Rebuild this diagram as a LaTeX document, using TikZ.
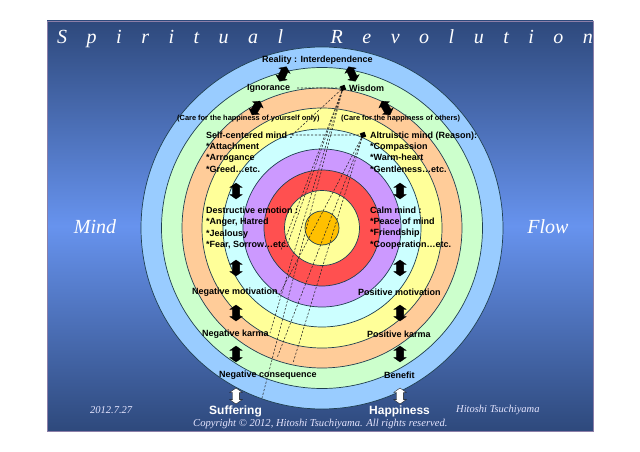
\documentclass[tikz,border=0pt]{standalone}
\usepackage{fontspec}
\setmainfont{Liberation Sans}
\newfontfamily\serifit[Ligatures=TeX]{Liberation Serif}
\definecolor{ringline}{HTML}{1F3F50}
\definecolor{bgdark}{HTML}{2E497C}
\definecolor{bgmid}{HTML}{6793EE}
\definecolor{frameline}{HTML}{8C7FA8}
\definecolor{ringa}{HTML}{99CCFF}
\definecolor{ringb}{HTML}{CCFFCC}
\definecolor{ringc}{HTML}{FFCC99}
\definecolor{ringd}{HTML}{FFFF99}
\definecolor{ringe}{HTML}{CCFFFF}
\definecolor{ringf}{HTML}{CC99FF}
\definecolor{ringg}{HTML}{FF5050}
\definecolor{ringh}{HTML}{FFFF99}
\definecolor{ringi}{HTML}{FFC000}
\tikzset{
  x=1pt,y=-1pt,
  ring/.style={draw=ringline,line width=0.7pt},
  lbl/.style={font=\fontsize{9}{11.2}\selectfont\bfseries,text=black,inner sep=0pt,anchor=west,align=left},
  smalllbl/.style={font=\fontsize{7.4}{9}\selectfont\bfseries,text=black,inner sep=0pt,anchor=west},
  bigwhite/.style={font=\fontsize{12}{14}\selectfont\bfseries,text=white,inner sep=0pt,anchor=west},
  script/.style={font=\serifit\itshape\fontsize{20}{24}\selectfont,text=white,inner sep=0pt},
  note/.style={font=\serifit\itshape\fontsize{10.5}{12}\selectfont,text=white!90!blue,inner sep=0pt,anchor=west},
  link/.style={draw=black!85,line width=0.55pt,dash pattern=on 2.2pt off 1.6pt},
  knot/.style={fill=black,minimum size=5pt,inner sep=0pt,rotate=20},
  dblar/.pic={
    \filldraw[fill=#1,draw=black,line width=0.3pt,line join=miter]
      (0,-8) -- (6.2,-3.6) -- (3.6,-3.6) -- (3.6,3.6) -- (6.2,3.6) -- (0,8)
      -- (-6.2,3.6) -- (-3.6,3.6) -- (-3.6,-3.6) -- (-6.2,-3.6) -- cycle;
  },
  dblar/.default=black,
}
\begin{document}
\begin{tikzpicture}
\useasboundingbox (0,0) rectangle (640,452);
\path[top color=bgdark,bottom color=bgdark,middle color=bgmid] (47,21) rectangle (593,431);
\draw[frameline,line width=0.8pt] (47,21) rectangle (593,431);
% rings
\coordinate (c) at (322,228);
\draw[ring,fill=ringa] (c) circle (181);
\draw[ring,fill=ringb] (c) circle (160.5);
\draw[ring,fill=ringc] (c) circle (140);
\draw[ring,fill=ringd] (c) circle (120);
\draw[ring,fill=ringe] (c) circle (99);
\draw[ring,fill=ringf] (c) circle (79);
\draw[ring,fill=ringg] (c) circle (58);
\draw[ring,fill=ringh] (c) circle (37.5);
\draw[ring,fill=ringi] (c) circle (17);
% connector anchors
\node[knot] (wis) at (343,88) {};
\node[knot] (alt) at (363,135) {};
\coordinate (ign) at (297,88);
\coordinate (self) at (292,135);
\coordinate (e0) at (281,250);
\coordinate (e1) at (288,243);
\coordinate (e2) at (270,333);
\coordinate (e3) at (262,398);
\coordinate (e4) at (278,297);
\coordinate (e5) at (277,358);
\coordinate (e6) at (293,363);
\draw[link] (ign) -- (wis);
\draw[link] (self) -- (wis);
\draw[link] (self) -- (alt);
\draw[link] (wis) -- (e0);
\draw[link] (wis) -- (e1);
\draw[link] (wis) -- (e2);
\draw[link] (wis) -- (e3);
\draw[link] (alt) -- (e4);
\draw[link] (alt) -- (e5);
\draw[link] (alt) -- (e6);
% arrows
\foreach \yy in {191,268,313,354}{
  \pic at (236,\yy) {dblar};
  \pic at (400,\yy) {dblar};
}
\pic at (236,396) {dblar=white};
\pic at (400,396) {dblar=white};
\pic[rotate=-25] at (283,74) {dblar};
\pic[rotate=25] at (352,74) {dblar};
\pic[rotate=-30] at (256,108) {dblar};
\pic[rotate=30] at (386,108) {dblar};
% title
\node[script,anchor=west] (title) at (57,39) {\spaceskip=19.5pt S p i r i t u a l\hspace{28pt} R e v o l u t i o n};
\node[script] (mind) at (95,227) {Mind};
\node[script] (flow) at (548,227) {Flow};
% labels
\node[lbl] (real) at (262,60) {Reality : Interdependence};
\node[lbl] (igl) at (247,88) {Ignorance};
\node[lbl] (wl) at (349,88) {Wisdom};
\node[smalllbl] (cl) at (177,119) {(Care for the happiness of yourself only)};
\node[smalllbl] (cr) at (341,119) {(Care for the happiness of others)};
\node[lbl] (b1) at (206,152) {Self-centered mind :\\*Attachment\\*Arrogance\\*Greed…etc.};
\node[lbl] (b2) at (370,152) {Altruistic mind (Reason):\\*Compassion\\*Warm-heart\\*Gentleness…etc.};
\node[lbl] (b3) at (206,228) {Destructive emotion :\\*Anger, Hatred\\*Jealousy\\*Fear, Sorrow…etc.};
\node[lbl] (b4) at (370,228) {Calm mind :\\*Peace of mind\\*Friendship\\*Cooperation…etc.};
\node[lbl] (n1) at (192,292) {Negative motivation};
\node[lbl] (p1) at (358,292) {Positive motivation};
\node[lbl] (n2) at (202,334) {Negative karma};
\node[lbl] (p2) at (367,334) {Positive karma};
\node[lbl] (n3) at (219,375) {Negative consequence};
\node[lbl] (p3) at (384,375) {Benefit};
\node[bigwhite] (suf) at (209,411) {Suffering};
\node[bigwhite] (hap) at (369,411) {Happiness};
\node[note] (date) at (90,410) {2012.7.27};
\node[note] (auth) at (456,410) {Hitoshi Tsuchiyama};
\node[note,font=\serifit\itshape\fontsize{10.6}{13}\selectfont] (copy) at (193,424) {Copyright © 2012, Hitoshi Tsuchiyama. All rights reserved.};
\end{tikzpicture}
\end{document}
